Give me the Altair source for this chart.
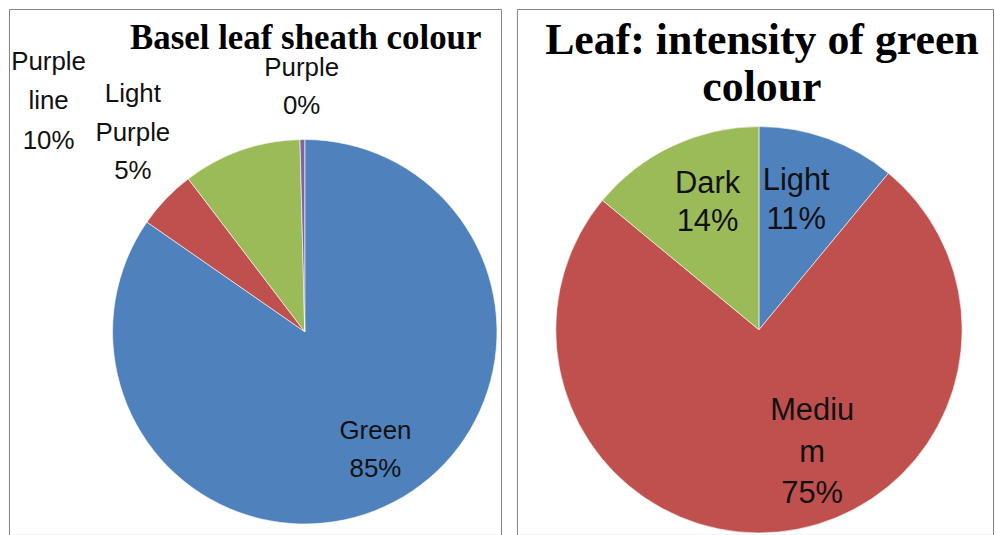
import altair as alt
import pandas as pd

# ---- data ----
left_title = "Basel leaf sheath colour"
left_labels = ["Green", "Light Purple", "Purple line", "Purple"]
left_values = [85, 5, 10, 0.4]
left_texts = ["Green\n85%", "Light\nPurple\n5%", "Purple\nline\n10%", "Purple\n0%"]
left_colors = ["#4F81BD", "#C0504D", "#9BBB59", "#8064A2"]

right_title = "Leaf: intensity of green\ncolour"
right_labels = ["Light", "Medium", "Dark"]
right_values = [11, 75, 14]
right_texts = ["Light\n11%", "Mediu\nm\n75%", "Dark\n14%"]
right_colors = ["#4F81BD", "#C0504D", "#9BBB59"]

LABEL_FONT = "Liberation Sans Narrow, Liberation Sans, Arial"
TITLE_FONT = "Liberation Serif, Times New Roman, serif"


def pie_panel(labels, values, texts, colors, cx, cy, R, label_pos, fsize,
              title, tx, ty, tsize, tlh, w, h):
    df = pd.DataFrame({"label": labels, "value": values, "text": texts,
                       "order": list(range(len(labels)))})
    total = float(sum(values))
    tscale = alt.Scale(domain=[0, total])
    base = alt.Chart(df).transform_stack(
        stack="value", as_=["v0", "v1"], groupby=[], sort=[alt.SortField("order")]
    ).transform_calculate(mid="(datum.v0 + datum.v1) / 2")
    arc = base.mark_arc(outerRadius=R, stroke="white", strokeWidth=0.6).encode(
        theta=alt.Theta("v0:Q", scale=tscale),
        theta2="v1:Q",
        x=alt.value(cx),
        y=alt.value(cy),
        color=alt.Color("label:N", scale=alt.Scale(domain=labels, range=colors), legend=None),
    )
    layers = [arc]
    for name, (r, dx, dy, llh) in label_pos.items():
        layers.append(
            base.transform_filter(alt.datum.label == name).mark_text(
                radius=r, dx=dx, dy=dy, font=LABEL_FONT, fontSize=fsize,
                lineBreak="\n", lineHeight=llh, align="center",
                baseline="middle", color="#111111").encode(
                theta=alt.Theta("mid:Q", scale=tscale),
                x=alt.value(cx),
                y=alt.value(cy),
                text="text:N",
            )
        )
    ttl = alt.Chart(pd.DataFrame({"t": [title]})).mark_text(
        font=TITLE_FONT, fontSize=tsize, fontWeight="bold", lineBreak="\n",
        lineHeight=tlh, align="center", baseline="alphabetic", color="black"
    ).encode(text="t:N", x=alt.value(tx), y=alt.value(ty))
    layers.append(ttl)
    return alt.layer(*layers).properties(width=w, height=h)


left = pie_panel(
    left_labels, left_values, left_texts, left_colors,
    cx=297, cy=324, R=193,
    label_pos={
        "Green": (138, 7, -23, 39),
        "Light Purple": (250, 8, -66, 39),
        "Purple line": (245, -176, -40, 40),
        "Purple": (248, 0, -17, 38),
    },
    fsize=26,
    title=left_title, tx=298, ty=40, tsize=35, tlh=46, w=494, h=528,
)

right = pie_panel(
    right_labels, right_values, right_texts, right_colors,
    cx=243, cy=322, R=204,
    label_pos={
        "Light": (137, -9, -20, 39),
        "Medium": (132, 41, -50, 42),
        "Dark": (140, 8, -20, 39),
    },
    fsize=31,
    title=right_title, tx=246, ty=45, tsize=44, tlh=47, w=478, h=528,
)

chart = alt.hconcat(left, right, spacing=14).properties(
    padding={"left": 8, "top": 7, "right": 1, "bottom": 0},
    background="white",
).configure_view(stroke="#7f7f7f", strokeWidth=1)

chart.save("out.html", embed_options={"renderer": "svg", "actions": False})
